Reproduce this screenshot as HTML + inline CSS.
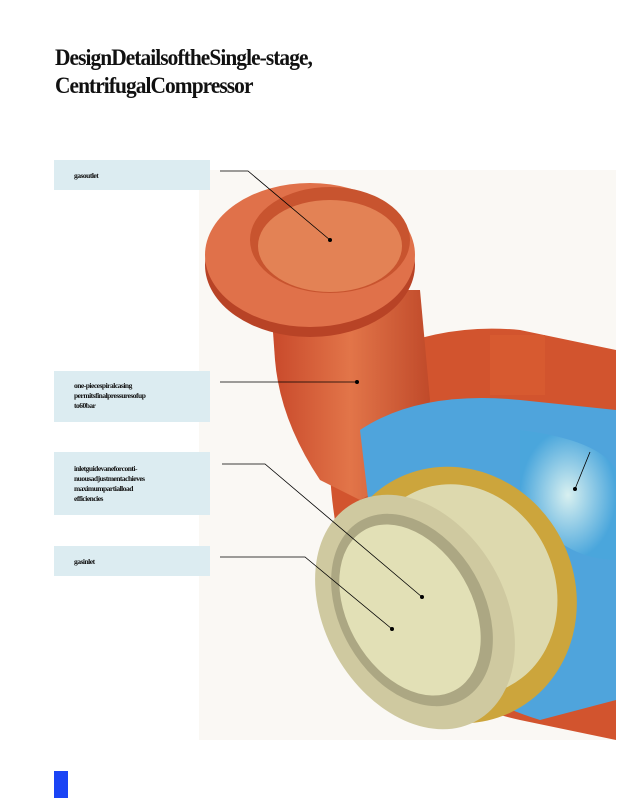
<!DOCTYPE html>
<html><head><meta charset="utf-8"><style>
body{margin:0;width:618px;height:800px;background:#fff;position:relative;overflow:hidden;font-family:"Liberation Serif",serif}
h1{position:absolute;left:55px;top:44px;margin:0;font-size:23px;line-height:28px;font-weight:bold;letter-spacing:-1px;color:#111;transform:scaleX(0.93);transform-origin:left}
.b{position:absolute;left:54px;width:156px;background:#dcecf1;font-size:7.5px;font-weight:bold;line-height:10px;letter-spacing:-0.5px;color:#111;box-sizing:border-box;padding-left:20px}
</style></head><body>
<h1>DesignDetailsoftheSingle-stage,<br>CentrifugalCompressor</h1>
<svg width="618" height="800" style="position:absolute;left:0;top:0">
<defs>
<linearGradient id="og" x1="0" x2="1"><stop offset="0" stop-color="#c8482a"/><stop offset="0.5" stop-color="#e27549"/><stop offset="1" stop-color="#c04a2a"/></linearGradient>
<radialGradient id="bg"><stop offset="0" stop-color="#d8f0f0"/><stop offset="1" stop-color="#4aa6dc"/></radialGradient>
</defs>
<rect x="199" y="170" width="417" height="570" fill="#faf8f4"/>
<path d="M330 380 Q420 320 520 330 L616 350 L616 740 L520 720 Q430 700 380 640 Q320 560 330 380Z" fill="#d2542e"/>
<path d="M270 290 L420 290 L430 400 Q420 470 360 500 L320 480 Q280 420 275 360Z" fill="url(#og)"/>
<ellipse cx="310" cy="265" rx="105" ry="72" fill="#b84326"/>
<ellipse cx="310" cy="255" rx="105" ry="72" fill="#e0714a"/>
<ellipse cx="330" cy="240" rx="80" ry="53" fill="#c8542f"/>
<ellipse cx="330" cy="246" rx="72" ry="46" fill="#e38255"/>
<rect x="490" y="335" width="55" height="60" fill="#d75a30"/>
<path d="M360 430 Q420 390 520 400 L616 410 L616 700 L540 720 Q440 690 380 600Z" fill="#4fa4dc"/>
<path d="M520 430 Q600 440 616 470 L616 560 Q560 560 520 500Z" fill="url(#bg)"/>
<ellipse cx="455" cy="595" rx="120" ry="130" transform="rotate(-25 455 595)" fill="#cca53c"/>
<ellipse cx="460" cy="590" rx="95" ry="108" transform="rotate(-25 460 590)" fill="#ddd9ae"/>
<ellipse cx="415" cy="612" rx="90" ry="125" transform="rotate(-30 415 612)" fill="#cfc9a0"/>
<ellipse cx="412" cy="610" rx="72" ry="103" transform="rotate(-30 412 610)" fill="#aca783"/>
<ellipse cx="410" cy="610" rx="62" ry="92" transform="rotate(-30 410 610)" fill="#e2e0b6"/>
<g stroke="#000" stroke-width="0.8" fill="none">
<polyline points="220,171 248,171 330,240"/>
<polyline points="220,382 357,382"/>
<polyline points="222,464 265,464 422,597"/>
<polyline points="220,557 305,557 392,629"/>
<polyline points="590,452 575,489"/>
</g>
<g fill="#000"><circle cx="330" cy="240" r="2"/><circle cx="357" cy="382" r="2"/><circle cx="422" cy="597" r="2"/><circle cx="392" cy="629" r="2"/><circle cx="575" cy="489" r="2"/></g>
<rect x="54" y="771" width="14" height="27" fill="#1a44f5"/>
</svg>
<div class="b" style="top:160px;height:30px;padding-top:11px">gasoutlet</div>
<div class="b" style="top:371px;height:51px;padding-top:10px">one-piecespiralcasing<br>permitsfinalpressuresofup<br>to60bar</div>
<div class="b" style="top:452px;height:63px;padding-top:12px">inletguidevaneforconti-<br>nuousadjustmentachieves<br>maximumpartialload<br>efficiencies</div>
<div class="b" style="top:546px;height:30px;padding-top:11px">gasinlet</div>
</body></html>
